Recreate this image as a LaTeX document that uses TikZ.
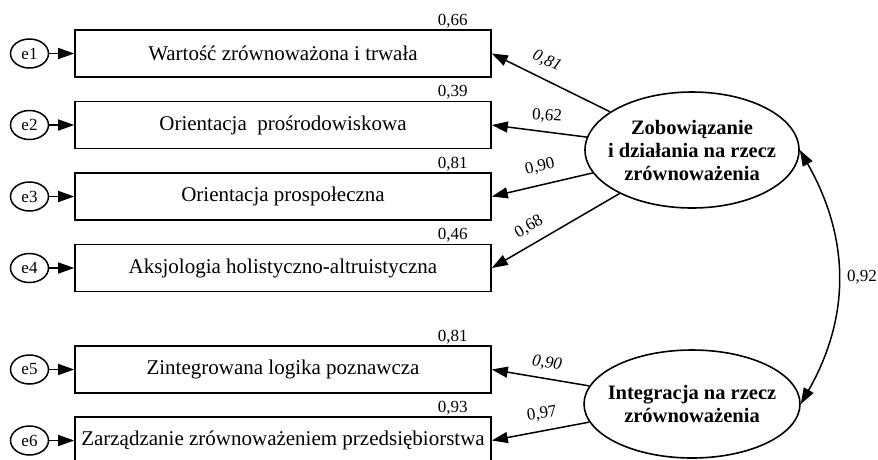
\documentclass[tikz,border=0pt]{standalone}
\usepackage{fontspec}
\setmainfont{Liberation Serif}
\usetikzlibrary{arrows.meta,shapes.geometric}
\begin{document}
\begin{tikzpicture}[x=1pt,y=-1pt,
  line width=1.5pt,
  headtip/.tip={Triangle[length=16pt,width=11pt]},
  tip/.style={-headtip},
  indicator/.style={draw, line width=1.6pt, rectangle, minimum width=416pt,
    minimum height=47pt, inner sep=0pt, font=\fontsize{21}{24}\selectfont},
  errnode/.style={draw, ellipse, line width=1.5pt, minimum width=38pt, minimum height=29pt,
    inner sep=0pt, font=\fontsize{17}{19}\selectfont},
  factor/.style={draw, ellipse, line width=1.6pt, inner sep=0pt},
  factortext/.style={align=center, inner sep=0pt,
    font=\bfseries\fontsize{20.5}{23}\selectfont},
  rsq/.style={anchor=base, inner sep=0pt, font=\fontsize{17}{19}\selectfont},
  loadlabel/.style={inner sep=0pt, font=\fontsize{17}{19}\selectfont},
  loaditalic/.style={loadlabel, font=\itshape\fontsize{17}{19}\selectfont}
]
\useasboundingbox (0,0) rectangle (878,459);

% observed indicators
\node[indicator] (b1) at (283,53.5)  {Wartość zrównoważona i trwała};
\node[indicator] (b2) at (283,125)   {Orientacja~ prośrodowiskowa};
\node[indicator] (b3) at (283,196.5) {Orientacja prospołeczna};
\node[indicator] (b4) at (283,268)   {Aksjologia holistyczno-altruistyczna};
\node[indicator] (b5) at (283,369.5) {Zintegrowana logika poznawcza};
\node[indicator] (b6) at (283,440.5) {Zarządzanie zrównoważeniem przedsiębiorstwa};

% error terms
\node[errnode] (e1) at (29.5,53.5)  {e1};
\node[errnode] (e2) at (29.5,125)   {e2};
\node[errnode] (e3) at (29.5,196.5) {e3};
\node[errnode] (e4) at (29.5,268)   {e4};
\node[errnode] (e5) at (29.5,369.5) {e5};
\node[errnode] (e6) at (29.5,440.5) {e6};

\foreach \i in {1,...,6} \draw[tip] (e\i) -- (b\i);

% squared multiple correlations
\node[rsq] (r1) at ([shift={(-39,-4)}]b1.north east) {0,66};
\node[rsq] (r2) at ([shift={(-39,-4)}]b2.north east) {0,39};
\node[rsq] (r3) at ([shift={(-39,-4)}]b3.north east) {0,81};
\node[rsq] (r4) at ([shift={(-39,-4)}]b4.north east) {0,46};
\node[rsq] (r5) at ([shift={(-39,-4)}]b5.north east) {0,81};
\node[rsq] (r6) at ([shift={(-39,-4)}]b6.north east) {0,93};

% latent factors
\node[factor, minimum width=214pt, minimum height=116pt] (z) at (692,150) {};
\node[factortext] (zt) at (z.center) {Zobowiązanie\\i działania na rzecz\\zrównoważenia};
\node[factor, minimum width=216pt, minimum height=108pt] (g) at (692,404) {};
\node[factortext] (gt) at (g.center) {Integracja na rzecz\\zrównoważenia};

% factor loadings
\draw[tip] (z.155) -- (b1.east);
\draw[tip] (z.173) -- (b2.east);
\draw[tip] (z.193) -- (b3.east);
\draw[tip] (z.211) -- (b4.east);
\draw[tip] (g.170) -- (b5.east);
\draw[tip] (g.190) -- (b6.east);

\node[loaditalic, rotate=-25] (l1) at (547,61)  {0,81};
\node[loadlabel,  rotate=-4]  (l2) at (547,116) {0,62};
\node[loadlabel,  rotate=13]  (l3) at (540,167) {0,90};
\node[loadlabel,  rotate=30]  (l4) at (529,227) {0,68};
\node[loaditalic, rotate=-8]  (l5) at (547,363) {0,90};
\node[loadlabel,  rotate=9]   (l6) at (542,414) {0,97};

% factor correlation
\draw[headtip-headtip]
  (z.east) .. controls +(50,88) and +(50,-88) .. (g.east);
\node[loadlabel] (c) at (862,277) {0,92};
\end{tikzpicture}
\end{document}
